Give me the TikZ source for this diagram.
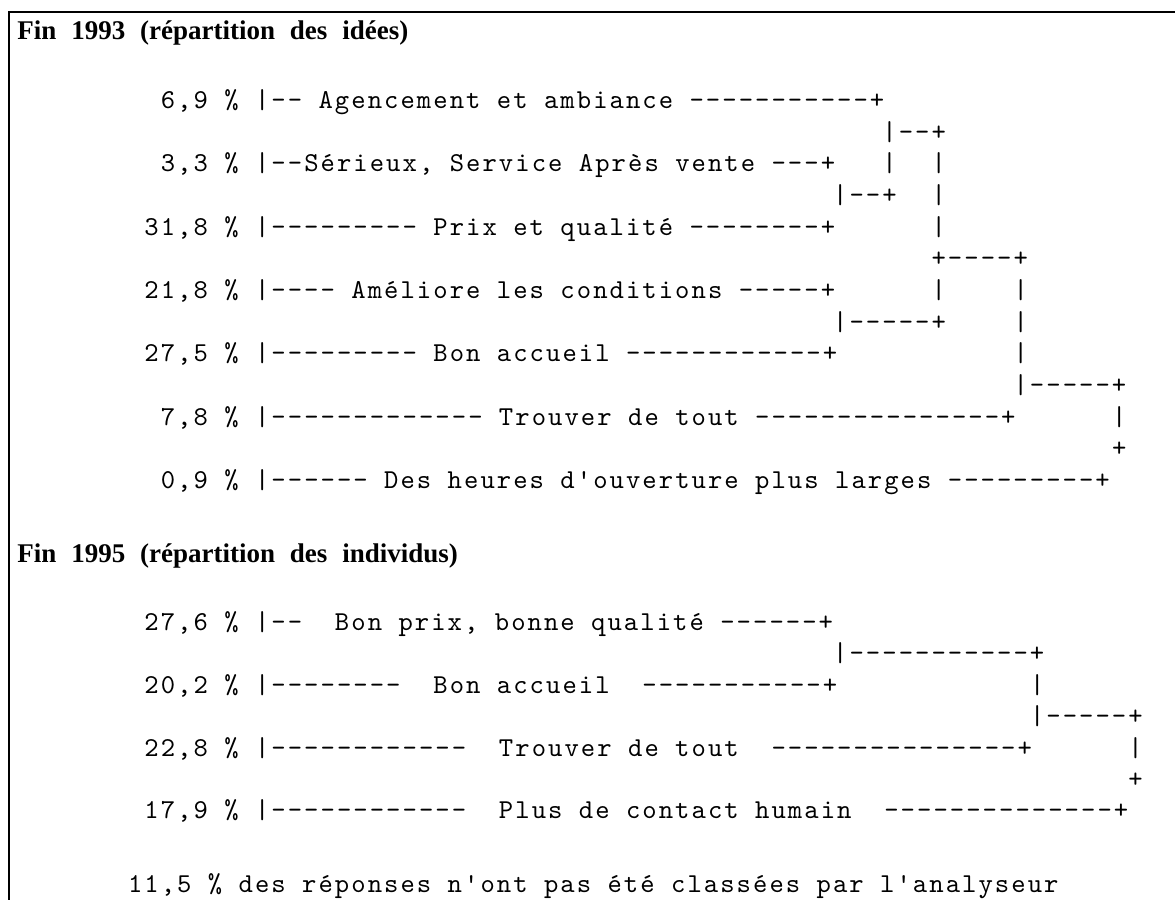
\documentclass[tikz,border=0pt]{standalone}
\usepackage{fontspec}
\setmainfont{Liberation Serif}
\newfontfamily\asciifont{lmmono10-regular.otf}[Ligatures=TeXOff, LetterSpace=7.575]
\newcommand{\asciisetup}{\asciifont\fontsize{13.65pt}{16pt}\selectfont\fontdimen2\font=8.2pt\relax\fontdimen3\font=0pt\relax\fontdimen4\font=0pt\relax}
\newcommand{\headsetup}{\bfseries\fontsize{13.5pt}{16pt}\selectfont\spaceskip=0.55em\relax}
\newcommand{\cx}[1]{258.8+16.4*(#1)}
\tikzset{asciirow/.style={font=\asciisetup, inner sep=0pt, anchor=base west}}
\tikzset{heading/.style={font=\headsetup, inner sep=0pt, anchor=base west}}

\begin{document}
\begin{tikzpicture}[x=0.5pt, y=-0.5pt]
    \useasboundingbox (0,0) rectangle (1175,900);

    % cadre
    \coordinate (cornerA) at (9,12);
    \draw[line width=1pt] (9,900) -- (cornerA) -- (1175,12);

    \node[heading]  (titre93)    at (17,39)          {Fin 1993 (répartition des idées)};

    \node[asciirow] (agencement) at ({\cx{-6}},108)  {6,9 \% |-- Agencement et ambiance -----------+};
    \node[asciirow] (j1)         at ({\cx{38}},140)  {|--+};
    \node[asciirow] (serieux)    at ({\cx{-6}},171)  {3,3 \% |--Sérieux, Service Après vente ---+};
    \node[asciirow] (v1)         at ({\cx{38}},171)  {|};
    \node[asciirow] (v2)         at ({\cx{41}},171)  {|};
    \node[asciirow] (j2)         at ({\cx{35}},203)  {|--+};
    \node[asciirow] (v3)         at ({\cx{41}},203)  {|};
    \node[asciirow] (prix)       at ({\cx{-7}},235)  {31,8 \% |--------- Prix et qualité --------+};
    \node[asciirow] (v4)         at ({\cx{41}},235)  {|};
    \node[asciirow] (j3)         at ({\cx{41}},266)  {+----+};
    \node[asciirow] (ameliore)   at ({\cx{-7}},298)  {21,8 \% |---- Améliore les conditions -----+};
    \node[asciirow] (v5)         at ({\cx{41}},298)  {|};
    \node[asciirow] (v6)         at ({\cx{46}},298)  {|};
    \node[asciirow] (j4)         at ({\cx{35}},330)  {|-----+};
    \node[asciirow] (v7)         at ({\cx{46}},330)  {|};
    \node[asciirow] (accueil)    at ({\cx{-7}},361)  {27,5 \% |--------- Bon accueil ------------+};
    \node[asciirow] (v8)         at ({\cx{46}},361)  {|};
    \node[asciirow] (j5)         at ({\cx{46}},393)  {|-----+};
    \node[asciirow] (trouver)    at ({\cx{-6}},425)  {7,8 \% |------------- Trouver de tout ---------------+};
    \node[asciirow] (v9)         at ({\cx{52}},425)  {|};
    \node[asciirow] (j6)         at ({\cx{52}},456)  {+};
    \node[asciirow] (heures)     at ({\cx{-6}},488)  {0,9 \% |------ Des heures d'ouverture plus larges ---------+};

    \node[heading]  (titre95)    at (17,562)         {Fin 1995 (répartition des individus)};

    \node[asciirow] (bonprix)    at ({\cx{-7}},630)  {27,6 \% |--~~Bon prix, bonne qualité ------+};
    \node[asciirow] (k1)         at ({\cx{35}},661)  {|-----------+};
    \node[asciirow] (bonaccueil) at ({\cx{-7}},693)  {20,2 \% |--------~~Bon accueil~~-----------+};
    \node[asciirow] (w1)         at ({\cx{47}},693)  {|};
    \node[asciirow] (k2)         at ({\cx{47}},724)  {|-----+};
    \node[asciirow] (tout)       at ({\cx{-7}},756)  {22,8 \% |------------~~Trouver de tout~~---------------+};
    \node[asciirow] (w2)         at ({\cx{53}},756)  {|};
    \node[asciirow] (k3)         at ({\cx{53}},787)  {+};
    \node[asciirow] (contact)    at ({\cx{-7}},818)  {17,9 \% |------------~~Plus de contact humain~~--------------+};

    \node[asciirow] (nonclasse)  at ({\cx{-8}},892)  {11,5 \% des réponses n'ont pas été classées par l'analyseur};
\end{tikzpicture}
\end{document}
